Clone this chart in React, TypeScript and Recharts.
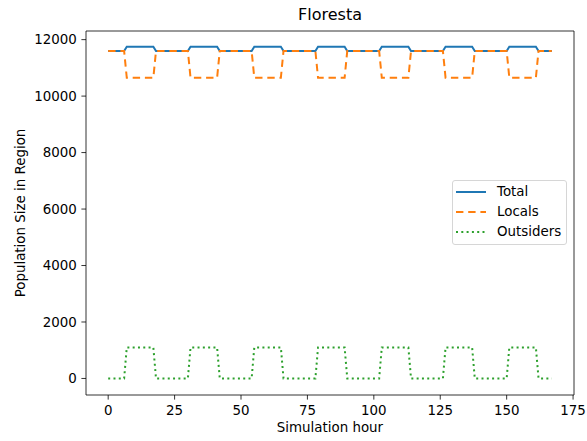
import { LineChart, Line, XAxis, YAxis, ReferenceArea } from "recharts";

// corner points of the daily cycle (hour of simulation)
const hours = [0, 6, 7, 17, 18, 30, 31, 41, 42, 54, 55, 65, 66, 78, 79, 89, 90, 102, 103, 113, 114, 126, 127, 137, 138, 150, 151, 161, 162, 167];
const totalPop = [11600, 11600, 11750, 11750, 11600, 11600, 11750, 11750, 11600, 11600, 11750, 11750, 11600, 11600, 11750, 11750, 11600, 11600, 11750, 11750, 11600, 11600, 11750, 11750, 11600, 11600, 11750, 11750, 11600, 11600];
const localsPop = [11600, 11600, 10650, 10650, 11600, 11600, 10650, 10650, 11600, 11600, 10650, 10650, 11600, 11600, 10650, 10650, 11600, 11600, 10650, 10650, 11600, 11600, 10650, 10650, 11600, 11600, 10650, 10650, 11600, 11600];
const outsidersPop = [0, 0, 1100, 1100, 0, 0, 1100, 1100, 0, 0, 1100, 1100, 0, 0, 1100, 1100, 0, 0, 1100, 1100, 0, 0, 1100, 1100, 0, 0, 1100, 1100, 0, 0];

const xTicks = [0, 25, 50, 75, 100, 125, 150, 175];
const yTicks = [0, 2000, 4000, 6000, 8000, 10000, 12000];

const data = hours.map((h, i) => ({
  hour: h,
  total: totalPop[i],
  locals: localsPop[i],
  outsiders: outsidersPop[i],
}));

const FONT = "'DejaVu Sans', sans-serif";
const FS = 13.4;
const X_DOMAIN: [number, number] = [-8.35, 175.35];
const Y_DOMAIN: [number, number] = [-586, 12306];

const legendItems = [
  { name: "Total", color: "#1f77b4", dash: undefined },
  { name: "Locals", color: "#ff7f0e", dash: "7.4 4.8" },
  { name: "Outsiders", color: "#2ca02c", dash: "2 3.3" },
];

function LegendBox() {
  return (
    <div
      style={{
        position: "absolute",
        left: 452,
        top: 180,
        width: 113,
        height: 63,
        border: "1px solid #d6d6d6",
        borderRadius: 3,
        background: "rgba(255,255,255,0.8)",
        fontSize: FS,
        color: "#000",
      }}
    >
      {legendItems.map((it, i) => (
        <div key={it.name} style={{ position: "absolute", left: 0, top: 1 + i * 20, height: 20, display: "flex", alignItems: "center" }}>
          <svg width={44} height={20}>
            <line x1={3} x2={33} y1={10} y2={10} stroke={it.color} strokeWidth={2} strokeDasharray={it.dash} />
          </svg>
          <span style={{ lineHeight: "20px" }}>{it.name}</span>
        </div>
      ))}
    </div>
  );
}

export default function App() {
  return (
    <div style={{ position: "absolute", left: 0, top: 0, width: 587, height: 441, background: "#fff", fontFamily: FONT }}>
      <LineChart width={587} height={441} data={data} margin={{ top: 31, right: 13, left: 0, bottom: 0 }}>
        <XAxis
          dataKey="hour"
          type="number"
          domain={X_DOMAIN}
          ticks={xTicks}
          allowDataOverflow
          height={46}
          tickSize={4.6}
          tickMargin={6}
          axisLine={false}
          tickLine={{ stroke: "#000", strokeWidth: 0.8 }}
          tick={{ fill: "#000", fontSize: FS, fontFamily: FONT }}
        />
        <YAxis
          type="number"
          domain={Y_DOMAIN}
          ticks={yTicks}
          allowDataOverflow
          width={86}
          tickSize={4.6}
          tickMargin={4.6}
          axisLine={false}
          tickLine={{ stroke: "#000", strokeWidth: 0.8 }}
          tick={{ fill: "#000", fontSize: FS, fontFamily: FONT }}
        />
        <ReferenceArea x1={X_DOMAIN[0]} x2={X_DOMAIN[1]} y1={Y_DOMAIN[0]} y2={Y_DOMAIN[1]} fill="none" stroke="#000" strokeWidth={0.8} ifOverflow="visible" />
        <Line type="linear" dataKey="total" stroke="#1f77b4" strokeWidth={2} dot={false} isAnimationActive={false} />
        <Line type="linear" dataKey="locals" stroke="#ff7f0e" strokeWidth={2} strokeDasharray="7.4 4.8" dot={false} isAnimationActive={false} />
        <Line type="linear" dataKey="outsiders" stroke="#2ca02c" strokeWidth={2} strokeDasharray="2 3.3" dot={false} isAnimationActive={false} />
      </LineChart>
      <div style={{ position: "absolute", left: 86, width: 488, top: 5, textAlign: "center", fontSize: 16, color: "#000" }}>Floresta</div>
      <div style={{ position: "absolute", left: 86, width: 488, top: 420, textAlign: "center", fontSize: FS, color: "#000" }}>Simulation hour</div>
      <div
        style={{
          position: "absolute",
          left: 20,
          top: 213,
          transform: "translate(-50%, -50%) rotate(-90deg)",
          whiteSpace: "nowrap",
          fontSize: FS,
          color: "#000",
        }}
      >
        Population Size in Region
      </div>
      <LegendBox />
    </div>
  );
}
